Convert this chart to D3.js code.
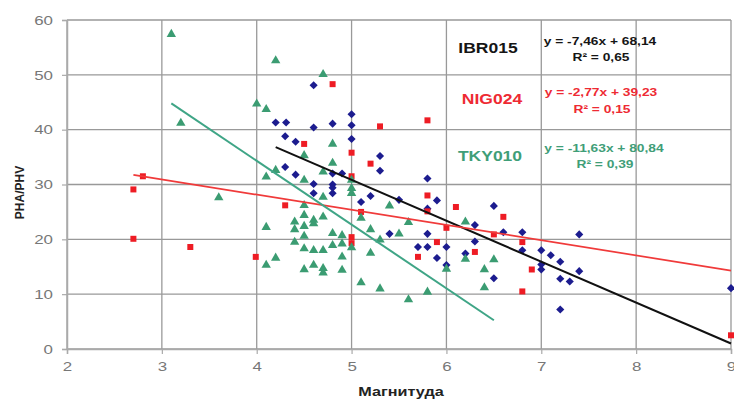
<!DOCTYPE html>
<html>
<head>
<meta charset="utf-8">
<script src="https://cdn.jsdelivr.net/npm/d3@7"></script>
<style>
  html, body { margin: 0; padding: 0; background: #fff; }
  svg { display: block; font-family: "Liberation Sans", Arial, sans-serif; }
</style>
</head>
<body>
<svg id="chart" width="734" height="403"></svg>
<script>
// Station PHA/PHV ratio versus magnitude, three stations with linear trends.
const seriesNames = ["IBR015", "NIG024", "TKY010"];
const equations = ["y = -7,46x + 68,14", "y = -2,77x + 39,23", "y = -11,63x + 80,84"];
const rSquared = ["R² = 0,65", "R² = 0,15", "R² = 0,39"];
const slopes = [-7.46, -2.77, -11.63];
const intercepts = [68.14, 39.23, 80.84];
const trendRanges = [[4.2, 9], [2.7, 9], [3.1, 6.5]];

const xTicks = [2, 3, 4, 5, 6, 7, 8, 9];
const yTicks = [0, 10, 20, 30, 40, 50, 60];

// IBR015: [magnitude, PHA/PHV]
const ibr015 = [
  [4.20, 41.3], [4.31, 41.3], [4.60, 48.1], [4.60, 40.4], [4.80, 41.1], [5.00, 42.8],
  [5.00, 40.8], [5.00, 38.3], [4.30, 38.8], [4.41, 37.8], [4.30, 33.2], [4.41, 31.8],
  [4.80, 32.0], [4.90, 32.0], [4.60, 30.1], [4.60, 28.4], [4.80, 30.0], [4.80, 28.4],
  [4.80, 29.4], [5.10, 26.8], [5.20, 27.9], [5.30, 35.2], [5.30, 32.5], [5.50, 27.2],
  [5.80, 31.1], [5.80, 25.6], [5.90, 27.1], [5.40, 21.0], [5.80, 21.0], [5.70, 18.6],
  [5.80, 18.6], [6.00, 18.6], [5.90, 16.6], [6.00, 15.3], [6.20, 17.4], [6.30, 22.6],
  [6.30, 19.6], [6.50, 26.1], [6.50, 12.9], [6.60, 21.3], [6.80, 21.3], [6.80, 18.0],
  [7.00, 18.0], [7.10, 17.1], [7.20, 15.9], [7.00, 15.4], [7.00, 14.5], [7.20, 12.8],
  [7.30, 12.3], [7.40, 14.2], [7.40, 20.9], [7.20, 7.2], [9.00, 11.1]
];

// NIG024: [magnitude, PHA/PHV]
const nig024 = [
  [2.80, 31.5], [2.70, 29.1], [2.70, 20.1], [3.30, 18.6], [3.99, 16.8], [4.30, 26.2],
  [4.50, 37.4], [4.80, 48.3], [5.00, 35.8], [5.00, 31.5], [5.20, 33.8], [5.30, 40.6],
  [5.80, 41.7], [5.10, 25.0], [5.00, 20.4], [5.00, 19.3], [5.80, 28.0], [5.80, 25.1],
  [6.10, 25.9], [6.00, 22.1], [5.90, 19.5], [5.70, 16.8], [6.30, 17.7], [6.50, 20.9],
  [6.60, 24.1], [6.80, 19.5], [6.90, 14.5], [6.80, 10.5], [9.00, 2.5]
];

// TKY010: [magnitude, PHA/PHV]
const tky010 = [
  [3.10, 57.4], [4.20, 52.6], [3.20, 41.2], [4.00, 44.7], [4.10, 43.7], [4.70, 50.1],
  [3.60, 27.6], [4.10, 31.4], [4.20, 32.6], [4.50, 35.3], [4.80, 37.4], [4.80, 33.9],
  [4.70, 32.3], [4.50, 30.8], [5.00, 30.8], [5.00, 29.3], [5.00, 28.4], [4.70, 27.7],
  [4.50, 26.2], [4.70, 24.1], [4.50, 24.4], [4.60, 23.5], [4.60, 22.9], [4.40, 23.2],
  [4.50, 22.4], [4.40, 21.8], [4.10, 22.2], [4.50, 20.6], [4.40, 19.5], [4.80, 21.1],
  [4.90, 20.7], [4.80, 18.9], [4.90, 19.2], [5.00, 18.5], [4.50, 18.3], [4.60, 18.0],
  [4.70, 18.0], [4.20, 16.6], [4.10, 15.3], [4.50, 14.5], [4.60, 15.3], [4.70, 14.7],
  [4.70, 13.9], [4.90, 16.8], [4.90, 14.4], [5.10, 12.1], [5.30, 11.0], [5.40, 26.1],
  [5.10, 23.9], [5.20, 21.8], [5.30, 19.9], [5.50, 21.0], [5.60, 23.1], [5.20, 17.5],
  [5.60, 9.0], [5.80, 10.4], [6.00, 14.6], [6.20, 16.4], [6.20, 23.2], [6.40, 14.5],
  [6.50, 16.3], [6.40, 11.2]
];

const seriesData = [ibr015, nig024, tky010];
const markerColors = ["#1c1c8f", "#ee1c24", "#3b9c72"];
const lineColors = ["#111111", "#f03a3a", "#3fa586"];
const textColors = ["#151515", "#ee2a33", "#3f9e78"];
const symbols = [d3.symbolDiamond2, d3.symbolSquare, d3.symbolTriangle];
const symbolSizes = [42, 36, 38];

const svg = d3.select("#chart");
const plotLeft = 67, plotRight = 731, plotTop = 20, plotBottom = 349;
const x = d3.scaleLinear().domain([2, 9]).range([plotLeft, plotRight]);
const y = d3.scaleLinear().domain([0, 60]).range([plotBottom, plotTop]);

// widen text horizontally to the chart's stretched lettering
function widen(sel, k) {
  sel.each(function () {
    const len = this.getComputedTextLength();
    d3.select(this).attr("textLength", len * k).attr("lengthAdjust", "spacingAndGlyphs");
  });
}

// gridlines
svg.append("g").selectAll("line").data(yTicks).join("line")
  .attr("x1", plotLeft).attr("x2", plotRight)
  .attr("y1", d => y(d)).attr("y2", d => y(d))
  .attr("stroke", "#999999").attr("stroke-width", 1.3);
svg.append("g").selectAll("line").data(xTicks).join("line")
  .attr("x1", d => x(d)).attr("x2", d => x(d))
  .attr("y1", plotTop).attr("y2", plotBottom)
  .attr("stroke", "#999999").attr("stroke-width", 1.3);

// axes
const yAxis = svg.append("g").attr("transform", `translate(${plotLeft},0)`)
  .call(d3.axisLeft(y).tickValues(yTicks).tickSize(5).tickPadding(9).tickFormat(d3.format("d")));
const xAxis = svg.append("g").attr("transform", `translate(0,${plotBottom})`)
  .call(d3.axisBottom(x).tickValues(xTicks).tickSize(5).tickPadding(8).tickFormat(d3.format("d")));
[yAxis, xAxis].forEach(g => {
  g.select(".domain").attr("stroke", "#aaaaaa").attr("stroke-width", 1.5);
  g.selectAll(".tick line").attr("stroke", "#aaaaaa").attr("stroke-width", 1.2);
  g.selectAll(".tick text").attr("fill", "#777").attr("font-size", 13)
    .attr("font-family", "'Liberation Sans', Arial, sans-serif");
});
widen(yAxis.selectAll(".tick text"), 1.3);
widen(xAxis.selectAll(".tick text"), 1.3);

// axis titles
const xTitle = svg.append("text").attr("x", (plotLeft + plotRight) / 2 + 2).attr("y", 396)
  .attr("text-anchor", "middle").attr("font-size", 12).attr("font-weight", "bold")
  .attr("fill", "#222").text("Магнитуда");
widen(xTitle, 1.35);
svg.append("text").attr("transform", `translate(24,${(plotTop + plotBottom) / 2 + 8}) rotate(-90)`)
  .attr("text-anchor", "middle").attr("font-size", 12).attr("font-weight", "bold")
  .attr("fill", "#222").text("PHA/PHV");

// markers
seriesData.forEach((data, i) => {
  const sym = d3.symbol().type(symbols[i]).size(symbolSizes[i]);
  svg.append("g").selectAll("path").data(data).join("path")
    .attr("transform", d => `translate(${x(d[0])},${y(d[1])})`)
    .attr("d", sym)
    .attr("fill", markerColors[i]);
});

// linear trend lines
seriesData.forEach((data, i) => {
  const pts = trendRanges[i].map(m => [m, slopes[i] * m + intercepts[i]]);
  svg.append("path")
    .attr("d", d3.line().x(d => x(d[0])).y(d => y(d[1]))(pts))
    .attr("fill", "none").attr("stroke", lineColors[i])
    .attr("stroke-width", i === 1 ? 1.7 : 2);
});

// station labels with regression equations
const nameX = [488, 492, 490], nameY = [53, 104, 161];
const eqX = [600, 601, 604], eqY = [45, 96, 152];
const r2Y = [61, 113, 168];
seriesNames.forEach((name, i) => {
  const t = svg.append("text").attr("x", nameX[i]).attr("y", nameY[i])
    .attr("text-anchor", "middle").attr("font-size", 14).attr("font-weight", "bold")
    .attr("fill", textColors[i]).text(name);
  widen(t, 1.25);
  const e = svg.append("text").attr("x", eqX[i]).attr("y", eqY[i])
    .attr("text-anchor", "middle").attr("font-size", 11).attr("font-weight", "bold")
    .attr("fill", textColors[i]).text(equations[i]);
  widen(e, 1.25);
  const r = svg.append("text").attr("x", eqX[i] + 1).attr("y", r2Y[i])
    .attr("text-anchor", "middle").attr("font-size", 11).attr("font-weight", "bold")
    .attr("fill", textColors[i]).text(rSquared[i]);
  widen(r, 1.25);
});
</script>
</body>
</html>
